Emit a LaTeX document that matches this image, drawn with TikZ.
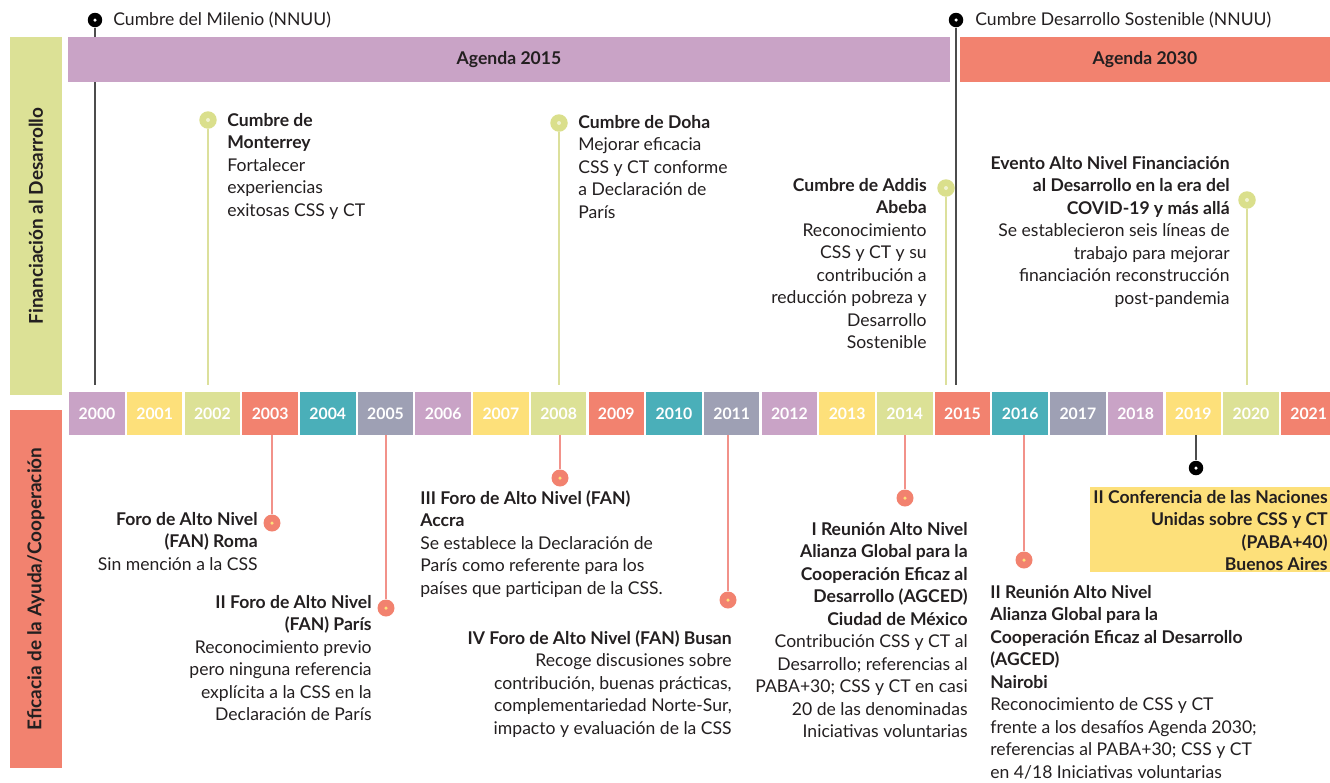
\documentclass[tikz,border=0pt]{standalone}
\usepackage{fontspec}
\setmainfont{Lato}
\usetikzlibrary{positioning}

\definecolor{yc0}{HTML}{C9A3C6}
\definecolor{yc1}{HTML}{FDE07A}
\definecolor{yc2}{HTML}{DCE196}
\definecolor{yc3}{HTML}{F2826F}
\definecolor{yc4}{HTML}{4AAFB9}
\definecolor{yc5}{HTML}{9EA0B4}
\definecolor{ink}{HTML}{231F20}
\definecolor{limepin}{HTML}{DADF8C}
\definecolor{limeline}{HTML}{DCE09C}
\definecolor{redline}{HTML}{F2928A}

\begin{document}
\begin{tikzpicture}[
    x=0.02cm, y=-0.02cm,
    yearbox/.style={rectangle, inner sep=0pt, minimum width=1.11cm, minimum height=0.86cm, text=white, font=\fontsize{9}{11}\selectfont\bfseries},
    band/.style={rectangle, inner sep=0pt, minimum height=0.9cm, font=\fontsize{10}{12}\selectfont\bfseries, text=ink},
    side/.style={rectangle, rotate=90, inner sep=0pt, minimum width=7.16cm, minimum height=1.04cm, font=\fontsize{10.8}{13}\selectfont\bfseries, text=ink},
    pinblk/.style={circle, fill=black, inner sep=0pt, minimum size=0.29cm, path picture={\fill[white] (path picture bounding box.center) circle (0.035cm);}},
    pinlime/.style={circle, fill=limepin, inner sep=0pt, minimum size=0.35cm, path picture={\fill[white!60!limepin] (path picture bounding box.center) circle (0.04cm);}},
    dotred/.style={circle, fill=yc3, inner sep=0pt, minimum size=0.34cm, path picture={\fill[yc1] (path picture bounding box.center) circle (0.035cm);}},
    linblk/.style={draw=black!70, line width=1.1pt, shorten >=0.14cm},
    linlime/.style={draw=limeline, line width=1pt, shorten >=0.14cm},
    linred/.style={draw=redline, line width=0.9pt},
    evt/.style={inner sep=0pt, font=\fontsize{10}{12.8}\selectfont, text=ink},
    evl/.style={evt, anchor=north west, align=left},
    evr/.style={evt, anchor=north east, align=right}
]
    \useasboundingbox (0,0) rectangle (1330,782);

    % year strip
    \foreach \i in {0,...,21} {
        \pgfmathtruncatemacro\c{mod(\i,6)}
        \pgfmathtruncatemacro\yr{2000+\i}
        \node[yearbox, fill=yc\c] (y\yr) at ({97+57.7*\i},413.5) {\yr};
    }

    % side labels
    \node[side, fill=yc2] (finan) at (36,216) {Financiación al Desarrollo};
    \node[side, fill=yc3] (efic) at (36,589) {Eficacia de la Ayuda/Cooperación};

    % pins
    \node[pinblk] (mil) at (95,20) {};
    \node[pinblk] (ods) at (956,20) {};
    \node[pinlime] (mont) at (208,120) {};
    \node[pinlime] (doha) at (559,123) {};
    \node[pinlime] (addis) at (946,188) {};
    \node[pinlime] (covid) at (1247,200) {};
    \node[dotred] (roma) at (272,523) {};
    \node[dotred] (paris) at (386,608) {};
    \node[dotred] (accra) at (560,478) {};
    \node[dotred] (busan) at (728,600) {};
    \node[dotred] (mexico) at (905,498) {};
    \node[dotred] (nairobi) at (1024,560) {};
    \node[pinblk] (bsas) at (1196,468) {};

    % stems
    \draw[linblk] (mil) -- (mil |- y2000.north);
    \draw[linblk] (ods) -- (ods |- y2015.north);
    \draw[linlime] (mont) -- (mont |- y2002.north);
    \draw[linlime] (doha) -- (doha |- y2008.north);
    \draw[linlime] (addis) -- (addis |- y2015.north);
    \draw[linlime] (covid) -- (covid |- y2020.north);
    \draw[linred] (roma |- y2003.south) -- (roma);
    \draw[linred] (paris |- y2005.south) -- (paris);
    \draw[linred] (accra |- y2008.south) -- (accra);
    \draw[linred] (busan |- y2011.south) -- (busan);
    \draw[linred] (mexico |- y2014.south) -- (mexico);
    \draw[linred] (nairobi |- y2016.south) -- (nairobi);
    \draw[linblk, shorten >=0pt] (bsas |- y2019.south) -- (bsas);

    % agenda bands (over the Milenio stem)
    \node[band, fill=yc0, minimum width=17.64cm] (ag15) at (509,59.5) {Agenda 2015};
    \node[band, fill=yc3, minimum width=7.4cm] (ag30) at (1145,59.5) {Agenda 2030};

    \node[evt, anchor=west] (miltxt) at (113,20) {Cumbre del Milenio (NNUU)};
    \node[evt, anchor=west] (odstxt) at (975,20) {Cumbre Desarrollo Sostenible (NNUU)};

    % financiacion
    \node[evl] (monttxt) at (227,113) {\textbf{Cumbre de}\\\textbf{Monterrey}\\Fortalecer\\experiencias\\exitosas CSS y CT};
    \node[evl] (dohatxt) at (578,115) {\textbf{Cumbre de Doha}\\Mejorar eficacia\\CSS y CT conforme\\a Declaración de\\París};
    \node[evr] (addistxt) at (927,178) {\textbf{Cumbre de Addis}\\\textbf{Abeba}\\Reconocimiento\\CSS y CT y su\\contribución a\\reducción pobreza y\\Desarrollo\\Sostenible};
    \node[evr] (covidtxt) at (1230,156) {\textbf{Evento Alto Nivel Financiación}\\\textbf{al Desarrollo en la era del}\\\textbf{COVID-19 y más allá}\\Se establecieron seis líneas de\\trabajo para mejorar\\financiación reconstrucción\\post-pandemia};

    % eficacia
    \node[evr] (romatxt) at (258,512) {\textbf{Foro de Alto Nivel}\\\textbf{(FAN) Roma}\\Sin mención a la CSS};
    \node[evr] (paristxt) at (372,595) {\textbf{II Foro de Alto Nivel}\\\textbf{(FAN) París}\\Reconocimiento previo\\pero ninguna referencia\\explícita a la CSS en la\\Declaración de París};
    \node[evl] (accratxt) at (420,490) {\textbf{III Foro de Alto Nivel (FAN)}\\\textbf{Accra}\\Se establece la Declaración de\\París como referente para los\\países que participan de la CSS.};
    \node[evr] (busantxt) at (732,630) {\textbf{IV Foro de Alto Nivel (FAN) Busan}\\Recoge discusiones sobre\\contribución, buenas prácticas,\\complementariedad Norte-Sur,\\impacto y evaluación de la CSS};
    \node[evr] (mexicotxt) at (968,522) {\textbf{I Reunión Alto Nivel}\\\textbf{Alianza Global para la}\\\textbf{Cooperación Eficaz al}\\\textbf{Desarrollo (AGCED)}\\\textbf{Ciudad de México}\\Contribución CSS y CT al\\Desarrollo; referencias al\\PABA+30; CSS y CT en casi\\20 de las denominadas\\Iniciativas voluntarias};
    \node[evl] (nairobitxt) at (990,585) {\textbf{II Reunión Alto Nivel}\\\textbf{Alianza Global para la}\\\textbf{Cooperación Eficaz al Desarrollo}\\\textbf{(AGCED)}\\\textbf{Nairobi}\\Reconocimiento de CSS y CT\\frente a los desafíos Agenda 2030;\\referencias al PABA+30; CSS y CT\\en 4/18 Iniciativas voluntarias};

    % conferencia Buenos Aires
    \node[rectangle, fill=yc1, inner sep=0pt, minimum width=4.8cm, minimum height=1.7cm] (bsasbox) at (1210,529.5) {};
    \node[evr, font=\fontsize{10}{12.8}\selectfont\bfseries] (bsastxt) at (1328,490) {II Conferencia de las Naciones\\Unidas sobre CSS y CT\\(PABA+40)\\Buenos Aires};
\end{tikzpicture}
\end{document}
